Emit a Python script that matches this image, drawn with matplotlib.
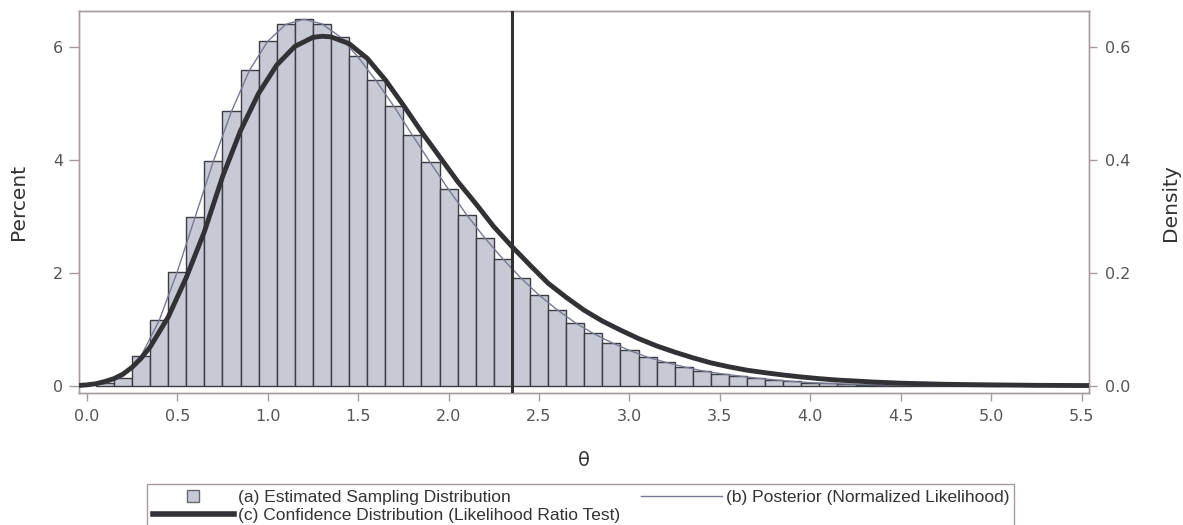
import numpy as np
import matplotlib.pyplot as plt
from matplotlib.lines import Line2D

# (a) estimated sampling distribution, percent per bin of width 0.1
bin_width = 0.1
bin_centers = np.round(np.arange(0.1, 5.01, bin_width), 2)
pct = [0.06, 0.15, 0.53, 1.16, 2.02, 3.00, 3.98, 4.86, 5.59, 6.10,
       6.40, 6.49, 6.41, 6.18, 5.84, 5.42, 4.96, 4.45, 3.96, 3.49,
       3.03, 2.62, 2.24, 1.91, 1.61, 1.35, 1.12, 0.93, 0.77, 0.63,
       0.51, 0.42, 0.34, 0.27, 0.22, 0.18, 0.14, 0.10, 0.08, 0.06,
       0.045, 0.035, 0.025, 0.02, 0.015, 0.01, 0.008, 0.005, 0.004, 0.003]

# (b) posterior (normalized likelihood), density
post_x = [0.0, 0.1, 0.2, 0.3, 0.4, 0.5, 0.6, 0.7, 0.8, 0.9,
          1.0, 1.1, 1.2, 1.3, 1.4, 1.5, 1.6, 1.7, 1.8, 1.9,
          2.0, 2.1, 2.2, 2.3, 2.4, 2.5, 2.6, 2.7, 2.8, 2.9,
          3.0, 3.1, 3.2, 3.3, 3.4, 3.5, 3.6, 3.7, 3.8, 3.9,
          4.0, 4.1, 4.2, 4.3, 4.4, 4.5, 4.6, 4.7, 4.8, 4.9, 5.0, 5.5]
post_y = [0.000, 0.004, 0.017, 0.053, 0.116, 0.202, 0.300, 0.398, 0.486, 0.559,
          0.610, 0.640, 0.649, 0.641, 0.618, 0.582, 0.540, 0.494, 0.444, 0.395,
          0.348, 0.303, 0.262, 0.225, 0.191, 0.161, 0.135, 0.112, 0.093, 0.077,
          0.063, 0.051, 0.042, 0.034, 0.027, 0.022, 0.018, 0.014, 0.011, 0.008,
          0.006, 0.0045, 0.0035, 0.0027, 0.002, 0.0015, 0.0011, 0.0008, 0.0006,
          0.0004, 0.0003, 0.0001]

# (c) confidence distribution (likelihood ratio test), density
cd_x = [-0.043, 0.0, 0.05, 0.1, 0.15, 0.2, 0.25, 0.3, 0.35, 0.45, 0.55, 0.65, 0.75, 0.85,
        0.95, 1.05, 1.15, 1.25, 1.30, 1.35, 1.45, 1.55, 1.65, 1.75,
        1.85, 1.95, 2.05, 2.15, 2.25, 2.35, 2.45, 2.55, 2.65, 2.75,
        2.85, 2.95, 3.05, 3.15, 3.25, 3.35, 3.45, 3.55, 3.65, 3.75,
        3.85, 3.95, 4.05, 4.15, 4.25, 4.35, 4.5, 4.75, 5.0, 5.25, 5.54]
cd_y = [0.001, 0.002, 0.004, 0.008, 0.013, 0.021, 0.033, 0.049, 0.069, 0.122, 0.192, 0.273, 0.370, 0.452,
        0.518, 0.568, 0.601, 0.617, 0.619, 0.618, 0.606, 0.580, 0.542, 0.497,
        0.450, 0.406, 0.362, 0.323, 0.282, 0.247, 0.214, 0.182, 0.157, 0.134,
        0.115, 0.099, 0.084, 0.071, 0.060, 0.050, 0.041, 0.034, 0.028, 0.0235,
        0.0195, 0.016, 0.013, 0.0105, 0.0088, 0.007, 0.005, 0.003, 0.002, 0.0012, 0.0008]

# observed estimate
theta_hat = 2.35

bar_fill = '#c7c9d4'
bar_edge = '#3c3c44'
thin_col = '#767a93'
thick_col = '#313136'
frame_col = '#a89b9b'
tick_txt = '#555555'

fig = plt.figure(figsize=(11.83, 5.25), dpi=100)
ax = fig.add_axes([79 / 1183, 1 - 393.3 / 525, (1089.3 - 79) / 1183, (393.3 - 11) / 525])

ax.bar(bin_centers, pct, width=bin_width, color=bar_fill, edgecolor=bar_edge, linewidth=1.0, zorder=2)
ax.set_xlim(-0.043, 5.542)
ax.set_ylim(-0.129, 6.637)
ax.set_xticks(np.arange(0, 5.51, 0.5))
ax.set_xticklabels([f'{t:.1f}' for t in np.arange(0, 5.51, 0.5)])
ax.set_yticks([0, 2, 4, 6])

ax2 = ax.twinx()
ax2.set_ylim(-0.0129, 0.6637)
ax2.set_yticks([0.0, 0.2, 0.4, 0.6])
ax2.set_yticklabels(['0.0', '0.2', '0.4', '0.6'])
ax2.plot(post_x, post_y, color=thin_col, lw=1.0, zorder=3)
ax2.plot(cd_x, cd_y, color=thick_col, lw=3.5, solid_capstyle='butt', solid_joinstyle='round', zorder=4)
ax2.axvline(theta_hat, color=thick_col, lw=2.2, zorder=5)

for a in (ax, ax2):
    for s in a.spines.values():
        s.set_color(frame_col)
        s.set_linewidth(1.0)
    a.tick_params(colors=frame_col, labelcolor=tick_txt, labelsize=11.5, length=6, width=1.0)
ax.tick_params(axis='y', length=7.5, pad=4)
ax.tick_params(axis='x', pad=5)
ax2.tick_params(axis='y', pad=5)

ax.set_xlabel('θ', fontsize=14, color='#333333', labelpad=20)
ax.set_ylabel('Percent', fontsize=14.5, color='#333333', labelpad=18)
ax2.set_ylabel('Density', fontsize=14.5, color='#333333', labelpad=22)

handles = [
    Line2D([], [], linestyle='none', marker='s', markersize=8.5,
           markerfacecolor=bar_fill, markeredgecolor='#666670', markeredgewidth=1.0),
    Line2D([], [], color=thick_col, lw=4.0),
    Line2D([], [], color=thin_col, lw=1.0),
]
labels = ['(a) Estimated Sampling Distribution',
          '(c) Confidence Distribution (Likelihood Ratio Test)',
          '(b) Posterior (Normalized Likelihood)']
leg = fig.legend(handles, labels, ncol=2, loc='upper left',
                 bbox_to_anchor=(147.3 / 1183, 1 - 484.3 / 525), borderaxespad=0,
                 prop={'family': 'Liberation Sans', 'size': 12.5},
                 handlelength=4.7, handletextpad=0.2, columnspacing=1.2,
                 labelspacing=0.2, borderpad=0.3, fancybox=False,
                 framealpha=1, edgecolor=frame_col)
leg.get_frame().set_linewidth(1.0)
for t in leg.get_texts():
    t.set_color('#333333')

fig.savefig('out.png', dpi=100)
